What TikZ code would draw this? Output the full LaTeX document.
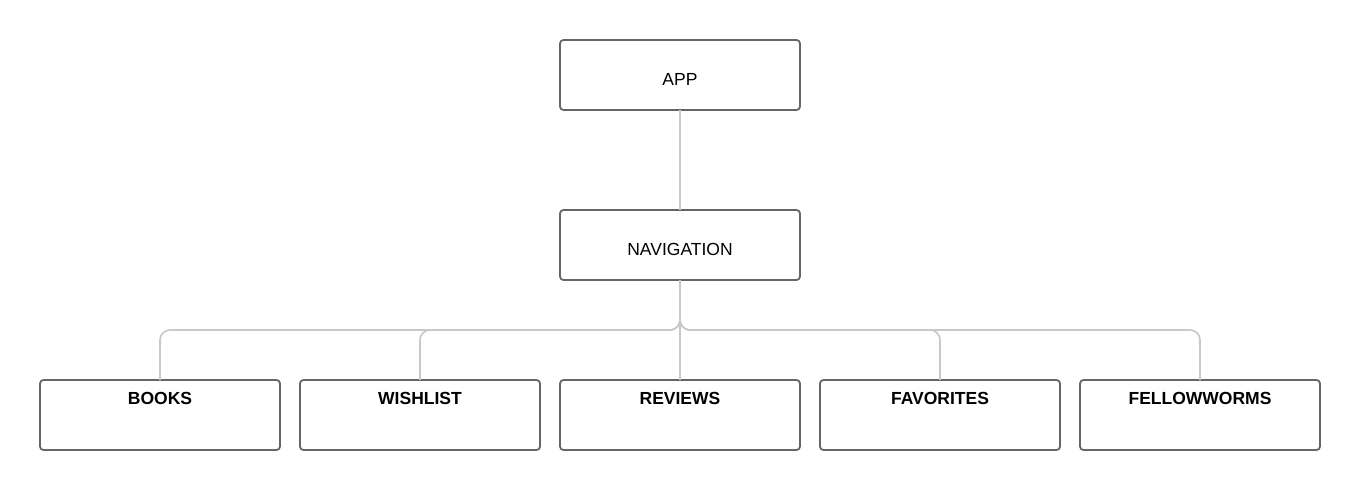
\documentclass[tikz,border=0pt]{standalone}
\usepackage{fontspec}
\setmainfont{Liberation Sans}
\usepackage{tikz}
\usetikzlibrary{positioning}

\definecolor{boxgray}{HTML}{666666}
\definecolor{linkgray}{HTML}{C8C8C8}

\tikzset{
    box/.style={draw=boxgray, line width=1.8pt, rounded corners=3.5pt, minimum width=240pt, inner sep=0pt, outer sep=0pt, font=\fontsize{17.5}{20}\selectfont},
    topbox/.style={box, text height=45pt, text depth=25pt},
    leafbox/.style={box, text height=24pt, text depth=46pt, font=\fontsize{17.5}{20}\selectfont\bfseries},
    link/.style={draw=linkgray, line width=1.6pt, rounded corners=10pt}
}

\begin{document}
\begin{tikzpicture}[x=1pt,y=-1pt]
    \useasboundingbox (0,0) rectangle (1360,490);
    \node[topbox] (app) at (680,75) {APP};
    \node[topbox] (nav) at (680,245) {NAVIGATION};
    \node[leafbox] (books) at (160,415) {BOOKS};
    \node[leafbox, right=20pt of books] (wishlist) {WISHLIST};
    \node[leafbox, right=20pt of wishlist] (reviews) {REVIEWS};
    \node[leafbox, right=20pt of reviews] (favorites) {FAVORITES};
    \node[leafbox, right=20pt of favorites] (fellowworms) {FELLOWWORMS};
    \draw[link] (app.south) -- (nav.north);
    \foreach \leaf in {books,wishlist,reviews,favorites,fellowworms}
        \draw[link] (nav.south) -- ++(0,50) -| (\leaf.north);
\end{tikzpicture}
\end{document}
